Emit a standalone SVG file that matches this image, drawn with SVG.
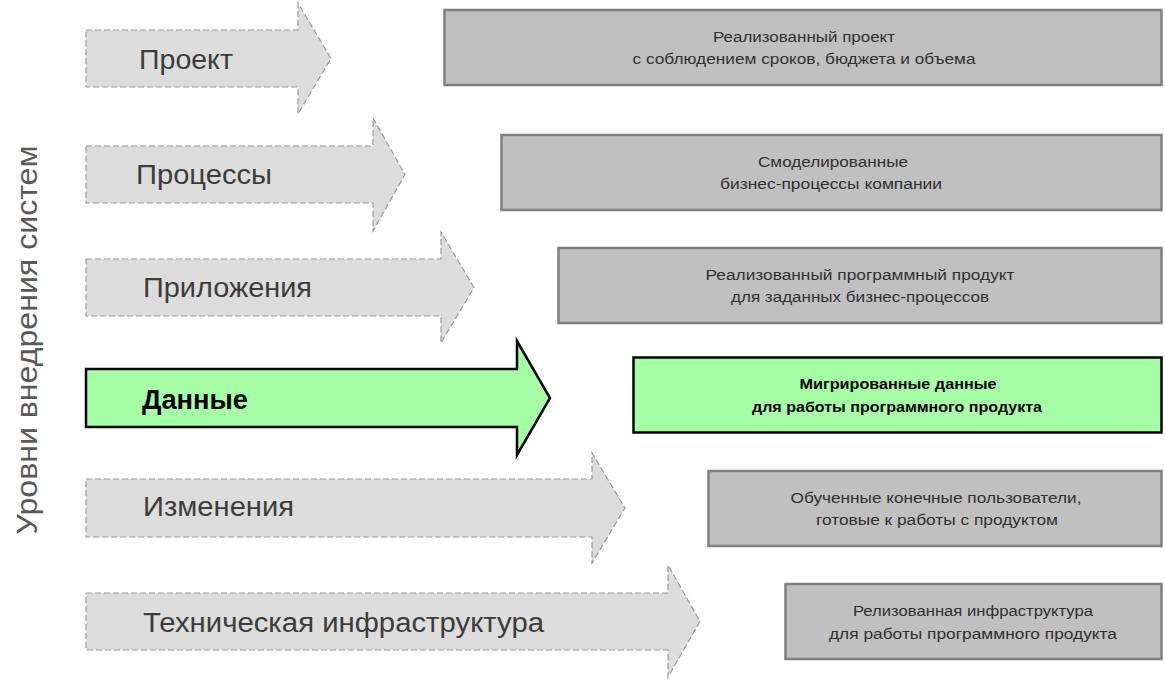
<svg xmlns="http://www.w3.org/2000/svg" width="1165" height="680" viewBox="0 0 1165 680">
<style>
.arr{fill:#dddddd;stroke:#999999;stroke-width:1.2;stroke-dasharray:6,3}
.arrG{fill:#a6ffa6;stroke:#000000;stroke-width:2.5;stroke-linejoin:miter}
.box{fill:#c0c0c0;stroke:#808080;stroke-width:2.5}
.boxG{fill:#a6ffa6;stroke:#000000;stroke-width:2.5}
.lbl{font-family:"Liberation Sans",Arial,sans-serif;font-size:27px;fill:#3c3c3c}
.lblG{font-family:"Liberation Sans",Arial,sans-serif;font-size:27px;font-weight:bold;fill:#000000}
.bt{font-family:"Liberation Sans",Arial,sans-serif;font-size:15.5px;fill:#303030;text-anchor:middle}
.btG{font-family:"Liberation Sans",Arial,sans-serif;font-size:15px;font-weight:bold;fill:#000000;text-anchor:middle}
.vert{font-family:"Liberation Sans",Arial,sans-serif;font-size:29px;fill:#595959;text-anchor:middle}
</style>
<rect width="1165" height="680" fill="#ffffff"/>
<g id="axis-label">
<text class="vert" transform="translate(37,340) rotate(-90)" textLength="389" lengthAdjust="spacingAndGlyphs">Уровни внедрения систем</text>
</g>
<g id="connectors"/>
<g id="arrow-proekt">
<path class="arr" d="M86,30 H298 V3 L331,58.5 L298,114 V87 H86 Z"/>
<text class="lbl" x="139" y="69" textLength="94" lengthAdjust="spacingAndGlyphs">Проект</text>
</g>
<g id="arrow-processy">
<path class="arr" d="M86,146 H373 V118 L405,174.5 L373,231 V203 H86 Z"/>
<text class="lbl" x="136" y="184" textLength="136" lengthAdjust="spacingAndGlyphs">Процессы</text>
</g>
<g id="arrow-prilozheniya">
<path class="arr" d="M86,259 H441 V232 L474,287.5 L441,343 V316 H86 Z"/>
<text class="lbl" x="143" y="297" textLength="169" lengthAdjust="spacingAndGlyphs">Приложения</text>
</g>
<g id="arrow-dannye">
<path class="arrG" d="M86,369 H517 V341 L550,398 L517,455 V427 H86 Z"/>
<text class="lblG" x="142" y="409" textLength="106" lengthAdjust="spacingAndGlyphs">Данные</text>
</g>
<g id="arrow-izmeneniya">
<path class="arr" d="M86,479 H592 V453 L625,508 L592,563 V537 H86 Z"/>
<text class="lbl" x="143" y="516" textLength="151" lengthAdjust="spacingAndGlyphs">Изменения</text>
</g>
<g id="arrow-infra">
<path class="arr" d="M86,593 H668 V565 L700,621.5 L668,677 V650 H86 Z"/>
<text class="lbl" x="143" y="632" textLength="401" lengthAdjust="spacingAndGlyphs">Техническая инфраструктура</text>
</g>
<g id="box-proekt">
<rect class="box" x="444.5" y="10" width="717" height="75"/>
<text class="bt" x="804" y="42" textLength="182" lengthAdjust="spacingAndGlyphs">Реализованный проект</text>
<text class="bt" x="804" y="64" textLength="343" lengthAdjust="spacingAndGlyphs">с соблюдением сроков, бюджета и объема</text>
</g>
<g id="box-processy">
<rect class="box" x="501.5" y="135" width="660" height="75"/>
<text class="bt" x="833" y="167" textLength="150" lengthAdjust="spacingAndGlyphs">Смоделированные</text>
<text class="bt" x="831" y="189" textLength="222" lengthAdjust="spacingAndGlyphs">бизнес-процессы компании</text>
</g>
<g id="box-prilozheniya">
<rect class="box" x="558.5" y="248" width="603" height="75"/>
<text class="bt" x="860" y="280" textLength="309" lengthAdjust="spacingAndGlyphs">Реализованный программный продукт</text>
<text class="bt" x="860" y="302" textLength="258" lengthAdjust="spacingAndGlyphs">для заданных бизнес-процессов</text>
</g>
<g id="box-dannye">
<rect class="boxG" x="633.5" y="357.5" width="528" height="75"/>
<text class="btG" x="898" y="389" textLength="197" lengthAdjust="spacingAndGlyphs">Мигрированные данные</text>
<text class="btG" x="897" y="412" textLength="290" lengthAdjust="spacingAndGlyphs">для работы программного продукта</text>
</g>
<g id="box-izmeneniya">
<rect class="box" x="708.5" y="471" width="453" height="75"/>
<text class="bt" x="936" y="503" textLength="291" lengthAdjust="spacingAndGlyphs">Обученные конечные пользователи,</text>
<text class="bt" x="937" y="525" textLength="242" lengthAdjust="spacingAndGlyphs">готовые к работы с продуктом</text>
</g>
<g id="box-infra">
<rect class="box" x="785.5" y="584" width="376" height="75"/>
<text class="bt" x="973" y="616" textLength="240" lengthAdjust="spacingAndGlyphs">Релизованная инфраструктура</text>
<text class="bt" x="973" y="639" textLength="288" lengthAdjust="spacingAndGlyphs">для работы программного продукта</text>
</g>
</svg>
